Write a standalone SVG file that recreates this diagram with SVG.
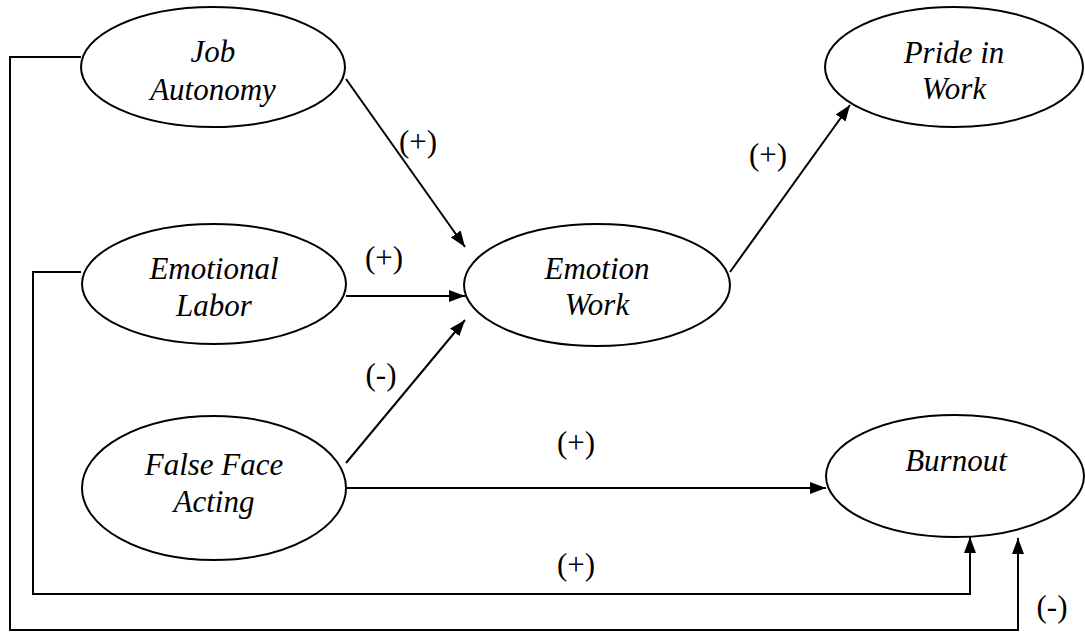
<svg xmlns="http://www.w3.org/2000/svg" width="1085" height="633" viewBox="0 0 1085 633">
<style>
.n{fill:#fff;stroke:#000;stroke-width:2}
.t{font-family:'Liberation Serif','Noto Serif',serif;font-style:italic;font-size:31px;fill:#000;text-anchor:middle}
.l{font-family:'Liberation Serif','Noto Serif',serif;font-size:31px;fill:#000;text-anchor:middle}
.c{fill:none;stroke:#000;stroke-width:2}
</style>
<defs>
<marker id="ah" viewBox="0 0 16 12" refX="16" refY="6" markerWidth="16" markerHeight="12" markerUnits="userSpaceOnUse" orient="auto">
<path d="M0,0 L16,6 L0,12 Z" fill="#000"/>
</marker>
</defs>
<g id="connectors">
<path class="c" d="M81,57 H10 V630 H1018 V538" marker-end="url(#ah)"/>
<path class="c" d="M81,272 H33 V594 H970 V537" marker-end="url(#ah)"/>
<path class="c" d="M346,79 L465,247" marker-end="url(#ah)"/>
<path class="c" d="M346,296 H465" marker-end="url(#ah)"/>
<path class="c" d="M346,463 L465,320" marker-end="url(#ah)"/>
<path class="c" d="M730,272 L850,105" marker-end="url(#ah)"/>
<path class="c" d="M347,488 H826" marker-end="url(#ah)"/>
<text class="l" x="418" y="152">(+)</text>
<text class="l" x="384" y="268">(+)</text>
<text class="l" x="381" y="385">(-)</text>
<text class="l" x="768" y="165">(+)</text>
<text class="l" x="576" y="453">(+)</text>
<text class="l" x="576" y="575">(+)</text>
<text class="l" x="1052" y="617">(-)</text>
</g>
<g id="job-autonomy">
<ellipse class="n" cx="213" cy="67" rx="132" ry="60"/>
<text class="t" x="213" y="62">Job</text>
<text class="t" x="213" y="100">Autonomy</text>
</g>
<g id="emotional-labor">
<ellipse class="n" cx="214" cy="284" rx="132" ry="60"/>
<text class="t" x="214" y="279">Emotional</text>
<text class="t" x="214" y="316">Labor</text>
</g>
<g id="false-face-acting">
<ellipse class="n" cx="214" cy="488" rx="132" ry="72"/>
<text class="t" x="214" y="475">False Face</text>
<text class="t" x="214" y="512">Acting</text>
</g>
<g id="emotion-work">
<ellipse class="n" cx="597" cy="285" rx="133" ry="61"/>
<text class="t" x="597" y="279">Emotion</text>
<text class="t" x="597" y="315">Work</text>
</g>
<g id="pride-in-work">
<ellipse class="n" cx="954" cy="67" rx="129" ry="60"/>
<text class="t" x="954" y="63">Pride in</text>
<text class="t" x="954" y="99">Work</text>
</g>
<g id="burnout">
<ellipse class="n" cx="955" cy="476" rx="129" ry="61"/>
<text class="t" x="956" y="471">Burnout</text>
</g>
</svg>
